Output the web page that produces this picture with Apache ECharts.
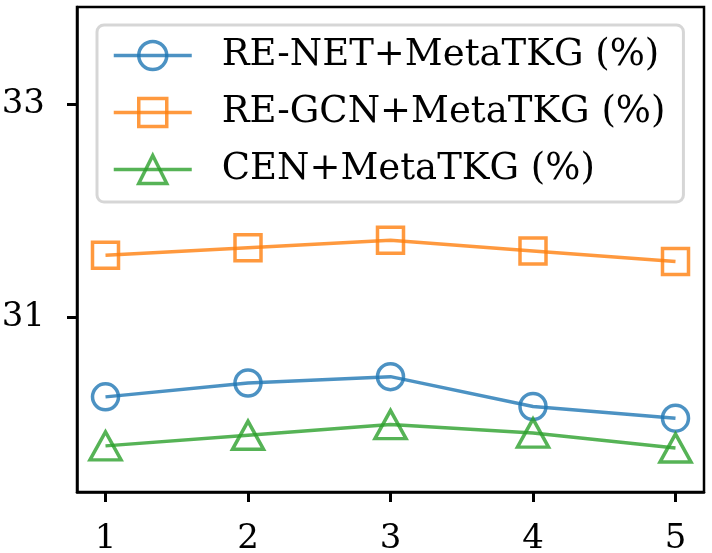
<!DOCTYPE html>
<html>
<head>
<meta charset="utf-8">
<script src="https://cdn.jsdelivr.net/npm/echarts@6/dist/echarts.min.js"></script>
<style>
  html, body { margin: 0; padding: 0; background: #fff; }
  #chart { width: 712px; height: 553px; }
</style>
</head>
<body>
<div id="chart"></div>
<script>
const steps = [1, 2, 3, 4, 5]
const yTicks = [31, 33]

const renet = [30.25, 30.38, 30.44, 30.16, 30.05]
const regcn = [31.58, 31.65, 31.72, 31.62, 31.52]
const cen = [29.79, 29.89, 29.99, 29.91, 29.77]

const names = ['RE-NET+MetaTKG (%)', 'RE-GCN+MetaTKG (%)', 'CEN+MetaTKG (%)']

const font = 'DejaVu Serif'

function makeSeries(name, values, color, symbol, size) {
  return {
    name: name,
    type: 'line',
    data: values.map((v, i) => [steps[i], v]),
    symbol: symbol,
    symbolSize: size,
    lineStyle: { color: color, width: 3.5 },
    itemStyle: { color: 'rgba(0,0,0,0)', borderColor: color, borderWidth: 3.5 },
    emphasis: { disabled: true },
    z: 3
  }
}

const chart = echarts.init(document.getElementById('chart'))

chart.setOption({
  animation: false,
  grid: {
    left: 77, right: 8, top: 7, bottom: 61,
    outerBoundsMode: 'none',
    show: true, borderColor: '#000', borderWidth: 2.5, backgroundColor: '#fff'
  },
  legend: {
    left: 97, top: 25,
    orient: 'vertical',
    itemWidth: 78, itemHeight: 35, itemGap: 20,
    padding: [12, 18, 14, 15],
    backgroundColor: '#fff',
    borderColor: 'rgba(204,204,204,0.8)',
    borderWidth: 3,
    borderRadius: 7,
    lineStyle: { width: 3.5 },
    itemStyle: { borderWidth: 3.5 },
    textStyle: { fontFamily: font, fontSize: 37, color: '#000', padding: [0, 0, 0, 25] },
    data: names
  },
  xAxis: {
    type: 'value',
    min: 0.8, max: 5.2,
    splitLine: { show: false },
    axisLine: { show: true, onZero: false, lineStyle: { color: '#000', width: 2.5 } },
    axisTick: { show: true, customValues: steps, length: 10, lineStyle: { color: '#000', width: 3 } },
    axisLabel: { customValues: steps, margin: 30, fontFamily: font, fontSize: 34, color: '#000' }
  },
  yAxis: {
    type: 'value',
    min: 29.357, max: 33.91,
    splitLine: { show: false },
    axisLine: { show: true, onZero: false, lineStyle: { color: '#000', width: 2.5 } },
    axisTick: { show: true, customValues: yTicks, length: 10, lineStyle: { color: '#000', width: 3 } },
    axisLabel: { customValues: yTicks, margin: 32, fontFamily: font, fontSize: 34, color: '#000' }
  },
  series: [
    makeSeries(names[0], renet, 'rgba(31,119,180,0.8)', 'circle', 26),
    makeSeries(names[1], regcn, 'rgba(255,127,14,0.8)', 'rect', 26),
    makeSeries(names[2], cen, 'rgba(44,160,44,0.8)', 'triangle', [31, 28])
  ]
})
</script>
</body>
</html>
